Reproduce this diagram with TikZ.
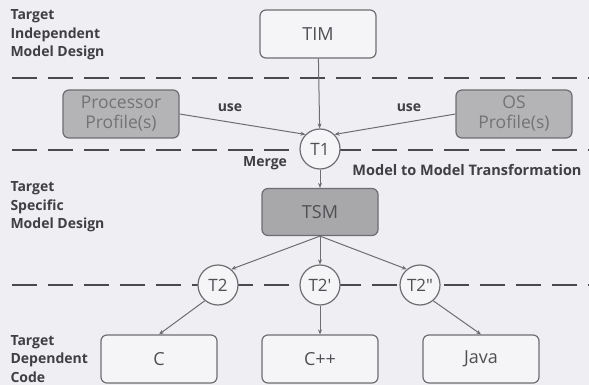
\documentclass[tikz,border=0pt]{standalone}
\usepackage{fontspec}
\setmainfont{Open Sans}
\newfontfamily\tfont{Open Sans}
\usetikzlibrary{arrows.meta}
\definecolor{bg}{HTML}{EFEFF3}
\definecolor{edge}{HTML}{6E6E72}
\definecolor{dash}{HTML}{4A4A4E}
\definecolor{boxfill}{HTML}{F5F5F8}
\definecolor{grayfill}{HTML}{B4B4B6}
\definecolor{tsmfill}{HTML}{A8A8AA}
\definecolor{txt}{HTML}{505054}
\definecolor{lbl}{HTML}{404044}
\tikzset{
  box/.style={draw=edge, line width=1.2pt, rounded corners=6pt, fill=boxfill,
    minimum width=116pt, minimum height=48pt, inner sep=0pt,
    font=\fontsize{18}{20}\selectfont, text=txt},
  graybox/.style={box, fill=grayfill, text=txt!80},
  tnode/.style={draw=edge, line width=1.2pt, circle, fill=boxfill,
    minimum size=40pt, inner sep=0pt, font=\tfont\fontsize{17}{18}\selectfont, text=txt},
  arr/.style={draw=edge, line width=1pt, -{Stealth[length=5pt,width=4pt]}},
  sep/.style={draw=dash, line width=2.6pt, dash pattern=on 25pt off 11pt},
  side/.style={align=left, anchor=west, font=\fontsize{14}{18.5}\selectfont\bfseries, text=lbl},
  elabel/.style={font=\fontsize{14}{16}\selectfont\bfseries, text=lbl}
}
\begin{document}
\begin{tikzpicture}[x=1pt,y=-1pt]
\fill[bg] (0,0) rectangle (589,385);
\useasboundingbox (0,0) rectangle (589,385);

\coordinate (l1a) at (12,78);  \coordinate (l1b) at (589,78);
\coordinate (l2a) at (12,150); \coordinate (l2b) at (589,150);
\coordinate (l3a) at (12,285); \coordinate (l3b) at (589,285);
\draw[sep] (l1a) -- (l1b);
\draw[sep] (l2a) -- (l2b);
\draw[sep] (l3a) -- (l3b);

\node[box] (TIM) at (318,34) {TIM};
\node[graybox, align=center, font=\fontsize{17.5}{20}\selectfont] (PP) at (121,114) {Processor\\Profile(s)};
\node[graybox, align=center, font=\fontsize{17.5}{20}\selectfont] (OS) at (514,114) {OS\\Profile(s)};
\node[tnode] (T1) at (320,149) {T1};
\node[box, fill=tsmfill, minimum height=47pt] (TSM) at (320,212) {TSM};
\node[tnode] (T2a) at (218,285) {T2};
\node[tnode] (T2b) at (320,285) {T2'};
\node[tnode] (T2c) at (420,285) {T2"};
\node[box] (C) at (159,359) {C};
\node[box] (CPP) at (320,359) {C++};
\node[box] (JAVA) at (481,359) {Java};

\draw[arr] (TIM) -- (T1);
\draw[arr] (PP.east) -- (T1.135);
\draw[arr] (OS.west) -- (T1.45);
\draw[arr] (T1) -- (TSM);
\draw[arr] (TSM.south) -- (T2a.50);
\draw[arr] (TSM.south) -- (T2b);
\draw[arr] (TSM.south) -- (T2c.130);
\draw[arr] (T2a.230) -- (C.north);
\draw[arr] (T2b) -- (CPP);
\draw[arr] (T2c.310) -- (JAVA.north);

\node[elabel] (u1) at (230,108) {use};
\node[elabel] (u2) at (409,108) {use};
\node[elabel] (mg) at (265,163) {Merge};
\node[elabel, font=\fontsize{14.5}{16}\selectfont\bfseries] (mtm) at (467,170) {Model to Model Transformation};

\node[side] (s1) at (7,35) {Target\\Independent\\Model Design};
\node[side] (s2) at (7,207) {Target\\Specific\\Model Design};
\node[side] (s3) at (7,359) {Target\\Dependent\\Code};
\end{tikzpicture}
\end{document}
